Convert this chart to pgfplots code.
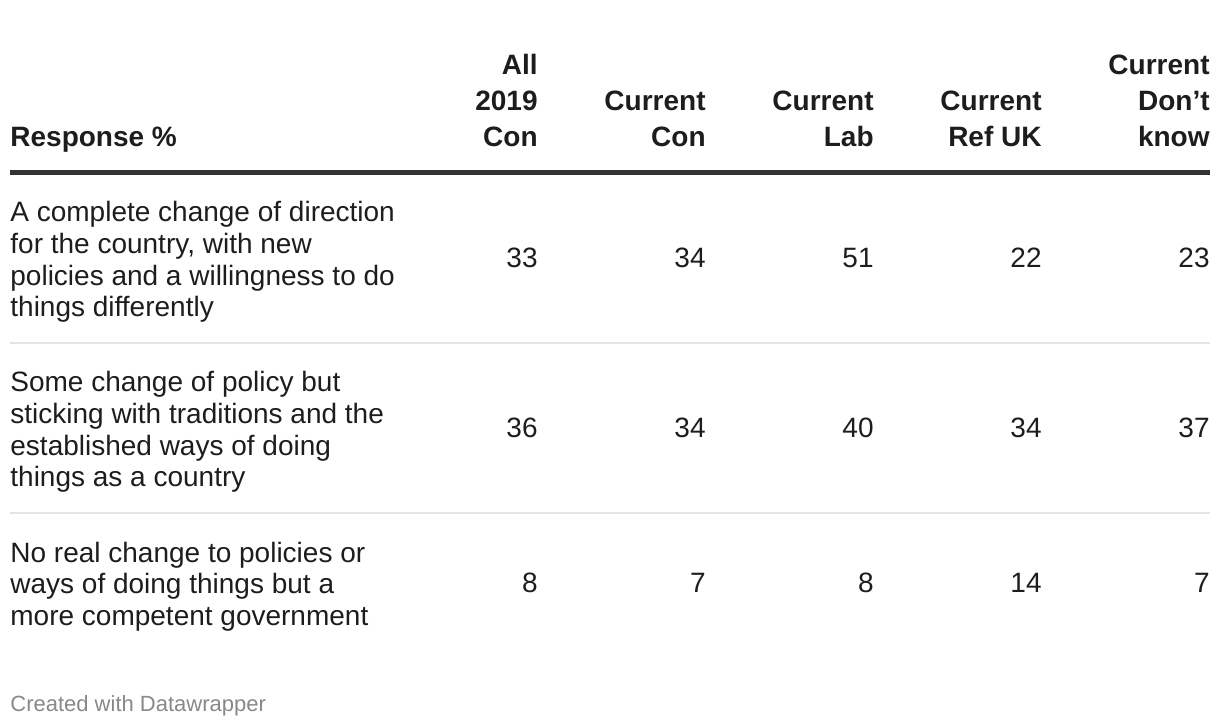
\documentclass[border=0pt]{standalone}
\usepackage{fontspec}
\setmainfont{Liberation Sans}
\usepackage{pgfplots}
\pgfplotsset{compat=1.18}
\definecolor{txt}{HTML}{1D1D1D}
\definecolor{rulecol}{HTML}{333333}
\definecolor{sepcol}{HTML}{E5E5E5}
\definecolor{foot}{HTML}{888888}

\begin{document}
\begin{tikzpicture}
\begin{axis}[
    width=610pt, height=363pt, scale only axis,
    xmin=0, xmax=1220, ymin=0, ymax=726, y dir=reverse,
    hide axis, clip=false,
]
% invisible frame so the page has the full size
\path (axis cs:0,0) rectangle (axis cs:1220,726);

% rules
\draw[rulecol, line width=2.2pt] (axis cs:10,172.5) -- (axis cs:1210,172.5);
\draw[sepcol, line width=1pt] (axis cs:10,343) -- (axis cs:1210,343);
\draw[sepcol, line width=1pt] (axis cs:10,513) -- (axis cs:1210,513);

% header
\begin{scope}[every node/.style={inner sep=0pt, text=txt, font=\fontsize{14}{16}\selectfont\bfseries}]
\node[anchor=base west] at (axis cs:10,147) {Response \%};
\node[anchor=base east] at (axis cs:538,75) {All};
\node[anchor=base east] at (axis cs:538,111) {2019};
\node[anchor=base east] at (axis cs:538,147) {Con};
\node[anchor=base east] at (axis cs:706,111) {Current};
\node[anchor=base east] at (axis cs:706,147) {Con};
\node[anchor=base east] at (axis cs:874,111) {Current};
\node[anchor=base east] at (axis cs:874,147) {Lab};
\node[anchor=base east] at (axis cs:1042,111) {Current};
\node[anchor=base east] at (axis cs:1042,147) {Ref UK};
\node[anchor=base east] at (axis cs:1210,75) {Current};
\node[anchor=base east] at (axis cs:1210,111) {Don’t};
\node[anchor=base east] at (axis cs:1210,147) {know};
\end{scope}

% row labels
\begin{scope}[every node/.style={inner sep=0pt, anchor=base west, text=txt, font=\fontsize{14}{16}\selectfont}]
\node at (axis cs:10,222) {A complete change of direction};
\node at (axis cs:10,253.7) {for the country, with new};
\node at (axis cs:10,285.3) {policies and a willingness to do};
\node at (axis cs:10,317) {things differently};
\node at (axis cs:10,392) {Some change of policy but};
\node at (axis cs:10,423.7) {sticking with traditions and the};
\node at (axis cs:10,455.3) {established ways of doing};
\node at (axis cs:10,487) {things as a country};
\node at (axis cs:10,562) {No real change to policies or};
\node at (axis cs:10,593.7) {ways of doing things but a};
\node at (axis cs:10,625.3) {more competent government};
\end{scope}

% values
\addplot[only marks, mark=none, point meta=explicit symbolic,
    nodes near coords,
    every node near coord/.style={anchor=base east, inner sep=0pt, text=txt,
        font=\fontsize{14}{16}\selectfont}]
    table[meta=v] {
x y v
538 268 33
706 268 34
874 268 51
1042 268 22
1210 268 23
538 438 36
706 438 34
874 438 40
1042 438 34
1210 438 37
538 592 8
706 592 7
874 592 8
1042 592 14
1210 592 7
};

\node[anchor=base west, inner sep=0pt, text=foot, font=\fontsize{11}{13}\selectfont]
    at (axis cs:10,711) {Created with Datawrapper};
\end{axis}
\end{tikzpicture}
\end{document}
